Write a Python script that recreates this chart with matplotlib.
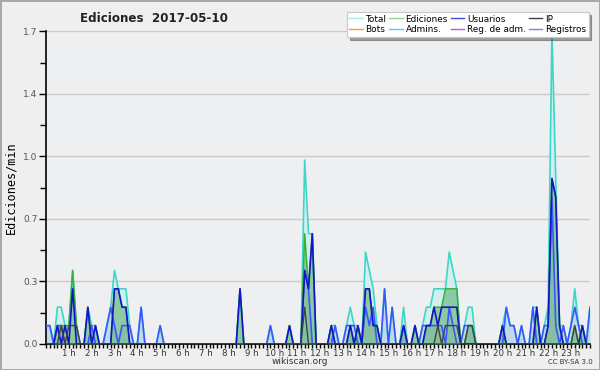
import numpy as np
import matplotlib
matplotlib.use("Agg")
import matplotlib.pyplot as plt
from matplotlib.lines import Line2D

# ediciones por intervalo de 10 min (144 intervalos, una fila por hora)
total = [
    1, 1, 0, 2, 2, 1,   1, 4, 1, 0, 0, 2,   1, 1, 0, 0, 1, 2,   4, 3, 3, 3, 1, 0,
    0, 2, 0, 0, 0, 0,   1, 0, 0, 0, 0, 0,   0, 0, 0, 0, 0, 0,   0, 0, 0, 0, 0, 0,
    0, 0, 0, 3, 0, 0,   0, 0, 0, 0, 0, 1,   0, 0, 0, 0, 1, 0,   0, 0, 10, 6, 6, 0,
    0, 0, 0, 1, 1, 0,   0, 1, 2, 1, 1, 0,   5, 4, 3, 1, 0, 3,   0, 2, 0, 0, 2, 0,
    0, 1, 0, 1, 2, 2,   3, 3, 3, 3, 5, 4,   3, 0, 1, 2, 2, 0,   0, 0, 0, 0, 0, 0,
    1, 2, 1, 1, 0, 1,   0, 0, 2, 2, 0, 1,   2, 17, 9, 1, 1, 0,  1, 3, 1, 1, 0, 2,
]
ediciones = [
    0, 0, 0, 1, 1, 1,   1, 4, 1, 0, 0, 2,   0, 1, 0, 0, 0, 0,   3, 3, 2, 2, 0, 0,
    0, 0, 0, 0, 0, 0,   0, 0, 0, 0, 0, 0,   0, 0, 0, 0, 0, 0,   0, 0, 0, 0, 0, 0,
    0, 0, 0, 3, 0, 0,   0, 0, 0, 0, 0, 0,   0, 0, 0, 0, 1, 0,   0, 0, 6, 3, 6, 0,
    0, 0, 0, 1, 0, 0,   0, 0, 1, 0, 1, 0,   3, 3, 1, 1, 0, 0,   0, 0, 0, 0, 1, 0,
    0, 1, 0, 0, 1, 1,   2, 2, 2, 3, 3, 3,   3, 0, 0, 1, 1, 0,   0, 0, 0, 0, 0, 0,
    1, 0, 0, 0, 0, 0,   0, 0, 0, 2, 0, 0,   1, 9, 8, 1, 0, 0,   0, 1, 0, 1, 0, 0,
]
usuarios = [
    0, 0, 0, 1, 0, 1,   0, 3, 0, 0, 0, 2,   0, 1, 0, 0, 0, 0,   3, 3, 2, 2, 0, 0,
    0, 0, 0, 0, 0, 0,   0, 0, 0, 0, 0, 0,   0, 0, 0, 0, 0, 0,   0, 0, 0, 0, 0, 0,
    0, 0, 0, 3, 0, 0,   0, 0, 0, 0, 0, 0,   0, 0, 0, 0, 1, 0,   0, 0, 4, 3, 6, 0,
    0, 0, 0, 1, 0, 0,   0, 0, 1, 0, 1, 0,   3, 3, 1, 1, 0, 0,   0, 0, 0, 0, 1, 0,
    0, 1, 0, 0, 1, 1,   2, 1, 2, 2, 2, 2,   2, 0, 0, 0, 0, 0,   0, 0, 0, 0, 0, 0,
    1, 0, 0, 0, 0, 0,   0, 0, 0, 2, 0, 0,   1, 9, 8, 1, 0, 0,   0, 0, 0, 1, 0, 0,
]
ip = [
    0, 0, 0, 0, 1, 0,   1, 1, 1, 0, 0, 0,   0, 0, 0, 0, 0, 0,   0, 0, 0, 0, 0, 0,
    0, 0, 0, 0, 0, 0,   0, 0, 0, 0, 0, 0,   0, 0, 0, 0, 0, 0,   0, 0, 0, 0, 0, 0,
    0, 0, 0, 0, 0, 0,   0, 0, 0, 0, 0, 0,   0, 0, 0, 0, 0, 0,   0, 0, 2, 0, 0, 0,
    0, 0, 0, 0, 0, 0,   0, 0, 0, 0, 0, 0,   0, 0, 0, 0, 0, 0,   0, 0, 0, 0, 0, 0,
    0, 0, 0, 0, 0, 0,   0, 1, 0, 1, 1, 1,   1, 0, 0, 1, 1, 0,   0, 0, 0, 0, 0, 0,
    0, 0, 0, 0, 0, 0,   0, 0, 0, 0, 0, 0,   0, 0, 0, 0, 0, 0,   0, 1, 0, 0, 0, 0,
]
registros = [
    1, 1, 0, 1, 1, 0,   0, 0, 0, 0, 0, 0,   1, 0, 0, 0, 1, 2,   1, 0, 1, 1, 1, 0,
    0, 2, 0, 0, 0, 0,   1, 0, 0, 0, 0, 0,   0, 0, 0, 0, 0, 0,   0, 0, 0, 0, 0, 0,
    0, 0, 0, 0, 0, 0,   0, 0, 0, 0, 0, 1,   0, 0, 0, 0, 0, 0,   0, 0, 4, 3, 0, 0,
    0, 0, 0, 0, 1, 0,   0, 1, 1, 1, 0, 0,   2, 1, 2, 0, 0, 3,   0, 2, 0, 0, 1, 0,
    0, 0, 0, 1, 1, 1,   1, 1, 1, 0, 2, 1,   0, 0, 1, 1, 1, 0,   0, 0, 0, 0, 0, 0,
    0, 2, 1, 1, 0, 1,   0, 0, 2, 0, 0, 1,   1, 8, 1, 0, 1, 0,   1, 2, 1, 0, 0, 2,
]
bots = [0] * 144
admins = [0] * 144
reg_adm = [0] * 144

hour_labels = [f"{h} h" for h in range(1, 24)]

# de ediciones por 10 min a ediciones por minuto
t = np.arange(len(total))
tot = np.array(total) / 10
ed = np.array(ediciones) / 10
us = np.array(usuarios) / 10
ipv = np.array(ip) / 10
reg = np.array(registros) / 10

bg = "#eeeff0"
fig = plt.figure(figsize=(6, 3.7), dpi=100, facecolor="#efefef")
fig.patch.set_edgecolor("#a8a8a8")
fig.patch.set_linewidth(2)
ax = fig.add_axes([0.0767, 0.0703, 0.9066, 0.8446])
ax.set_facecolor(bg)

# rellenos
ax.fill_between(t, 0, tot, color="#d2efee", lw=0, zorder=1)
ax.fill_between(t, 0, reg, color="#c0dbe8", lw=0, zorder=2)
ax.fill_between(t, 0, ed, color="#5fb070", alpha=0.6, lw=0, zorder=3)

# lineas
ax.plot(t, tot, color="#3ed6c8", lw=1.2, zorder=4)
ax.plot(t, reg, color="#3c56ff", lw=1.2, zorder=5)
ax.plot(t, ed, color="#38b038", lw=1.1, zorder=5)
ax.plot(t, us, color="#1414c8", lw=1.2, zorder=6)
ax.plot(t, ipv, color="#404040", lw=1.0, zorder=6)

ax.set_xlim(0, 143)
ax.set_ylim(0, 1.7)
for s in ["top", "right"]:
    ax.spines[s].set_visible(False)
ax.spines["left"].set_linewidth(1.2)
ax.spines["bottom"].set_linewidth(1.2)

yt = np.linspace(0, 1.7, 6)
ax.set_yticks(yt)
ax.set_yticklabels([f"{v:.1f}" for v in yt])
ax.set_yticks(np.linspace(0, 1.7, 11), minor=True)
ax.grid(axis="y", which="major", color="#cbcbcb", lw=1, zorder=0)
ax.set_axisbelow(True)
ax.tick_params(axis="y", which="major", length=5, width=1, labelsize=6.5,
               labelcolor="#555555", pad=1)
ax.tick_params(axis="y", which="minor", length=4, width=1)

ax.set_xticks(np.arange(6, 144, 6))
ax.set_xticklabels(hour_labels)
ax.set_xticks(np.arange(0, 144, 1), minor=True)
ax.tick_params(axis="x", which="both", length=3, width=1, labelsize=6.2,
               labelcolor="#333333", pad=0.5)

ax.set_ylabel("Ediciones/min", family="DejaVu Sans Mono", fontsize=8.5,
              labelpad=4)

fig.text(0.257, 0.951, "Ediciones  2017-05-10", ha="center", va="center",
         fontsize=8.6, fontweight="bold", color="#222222")
fig.text(0.5, 0.022, "wikiscan.org", ha="center", va="center",
         fontsize=6.5, color="#333333")
fig.text(0.95, 0.021, "CC BY-SA 3.0", ha="center", va="center",
         fontsize=5, color="#333333")

handles = [
    Line2D([], [], color="#a8e6e6", lw=1), Line2D([], [], color="#f0a040", lw=1),
    Line2D([], [], color="#90d890", lw=1), Line2D([], [], color="#50d0e0", lw=1),
    Line2D([], [], color="#4848d8", lw=1), Line2D([], [], color="#d050e0", lw=1),
    Line2D([], [], color="#404040", lw=1), Line2D([], [], color="#8080f0", lw=1),
]
labels = ["Total", "Bots", "Ediciones", "Admins.", "Usuarios", "Reg. de adm.",
          "IP", "Registros"]
leg = fig.legend(handles, labels, ncol=4, loc="upper left",
                 bbox_to_anchor=(0.578, 0.968), fontsize=6.4, frameon=True,
                 fancybox=False, shadow=True, handlelength=1.5,
                 handletextpad=0.3, columnspacing=0.35, labelspacing=0.2,
                 borderpad=0.3, borderaxespad=0)
leg.get_frame().set_edgecolor("#c8c8c8")
leg.get_frame().set_linewidth(0.8)

fig.savefig("out.png", dpi=100)
